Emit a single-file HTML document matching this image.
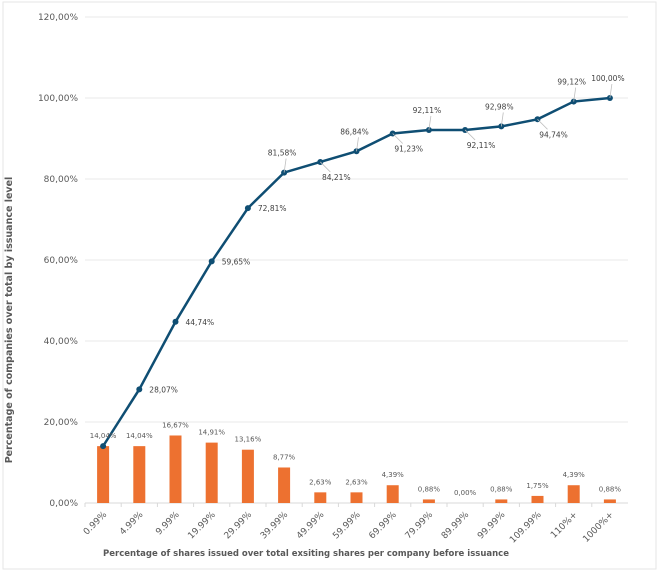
<!DOCTYPE html>
<html><head><meta charset="utf-8"><style>
body{margin:0;background:#fff;}
svg{display:block;font-family:"DejaVu Sans","Liberation Sans",sans-serif;}
</style></head><body>
<svg id="chart" width="671" height="579">
<rect x="3" y="2" width="653" height="567" fill="#fff" stroke="#e6e6e6"/>
<g id="grid"></g><g id="bars"></g><g id="line"></g><g id="labels"></g><g id="xticks"></g>
<text x="306" y="556" text-anchor="middle" font-size="8.5" font-weight="bold" fill="#595959">Percentage of shares issued over total exsiting shares per company before issuance</text>
<text transform="translate(12,320) rotate(-90)" text-anchor="middle" font-size="9.5" font-weight="bold" fill="#595959">Percentage of companies over total by issuance level</text>
</svg>
<script>
const categories=["0.99%","4.99%","9.99%","19.99%","29.99%","39.99%","49.99%","59.99%","69.99%","79.99%","89.99%","99.99%","109.99%","110%+","1000%+"];
const barValues=[14.04,14.04,16.67,14.91,13.16,8.77,2.63,2.63,4.39,0.88,0.00,0.88,1.75,4.39,0.88];
const lineValues=[14.04,28.07,44.74,59.65,72.81,81.58,84.21,86.84,91.23,92.11,92.11,92.98,94.74,99.12,100.00];
const yTicks=[0,20,40,60,80,100,120];
const lineLabelPos=["l","r","r","r","r","l","b","l","b","l","b","l","b","l","l"];
const svg=document.getElementById('chart');const NS="http://www.w3.org/2000/svg";
const x0=85,x1=628,y0=503,yTop=17;
const step=(x1-x0)/categories.length;
const xs=i=>x0+step*(i+0.5);
const ys=v=>y0-(v/120)*(y0-yTop);
const fmt=v=>v.toFixed(2).replace('.',',')+'%';
function mk(t,a,p){const e=document.createElementNS(NS,t);for(const k in a)e.setAttribute(k,a[k]);document.getElementById(p).appendChild(e);return e;}
yTicks.forEach(v=>{
 const l=mk('line',{x1:x0,x2:x1,y1:ys(v),y2:ys(v),stroke:v==0?'#d9d9d9':'#e8e8e8','stroke-width':1},'grid');
 
 
 const t=mk('text',{x:78,y:ys(v)+3,'text-anchor':'end','font-size':9,fill:'#595959'},'grid');t.textContent=fmt(v);
 
 
});
categories.forEach((c,i)=>{
 const tk=mk('line',{x1:x0+step*i,x2:x0+step*i,y1:y0,y2:y0+4,stroke:'#d9d9d9'},'grid');
 
 
 const h=y0-ys(barValues[i]);
 const b=mk('rect',{x:xs(i)-6,y:ys(barValues[i]),width:12,height:h,fill:'#ed7130'},'bars');
 
 
 const bl=mk('text',{x:xs(i),y:ys(barValues[i])-8,'text-anchor':'middle','font-size':7,fill:'#595959'},'labels');bl.textContent=fmt(barValues[i]);
 
 
 const tx=xs(i)+4,ty=y0+12;
 const t=mk('text',{x:tx,y:ty,'text-anchor':'end','font-size':9,fill:'#595959',transform:`rotate(-45 ${tx} ${ty})`},'xticks');t.textContent=c;
 
 
});
const pl=mk('polyline',{points:lineValues.map((v,i)=>xs(i)+','+ys(v)).join(' '),fill:'none',stroke:'#0f4e73','stroke-width':2.5},'line');


lineValues.forEach((v,i)=>{
 const c=mk('circle',{cx:xs(i),cy:ys(v),r:3,fill:'#0f4e73'},'line');
 
 
 if(i==0)return;
 const p=lineLabelPos[i];let lx,ly,anchor;
 if(p=='r'){lx=xs(i)+10;ly=ys(v)+3;anchor='start';}
 else if(p=='b'){lx=xs(i)+16;ly=ys(v)+18;anchor='middle';}
 else{lx=xs(i)-2;ly=ys(v)-17;anchor='middle';}
 if(p!='r'){const ld=mk('line',{x1:xs(i),y1:ys(v),x2:lx-(p=='b'?6:-4),y2:ly+(p=='b'?-8:3),stroke:'#bfbfbf','stroke-width':0.8},'labels');
  
  }
 const t=mk('text',{x:lx,y:ly,'text-anchor':anchor,'font-size':7.5,fill:'#404040'},'labels');t.textContent=fmt(v);
 
 
});
</script>
</body></html>
